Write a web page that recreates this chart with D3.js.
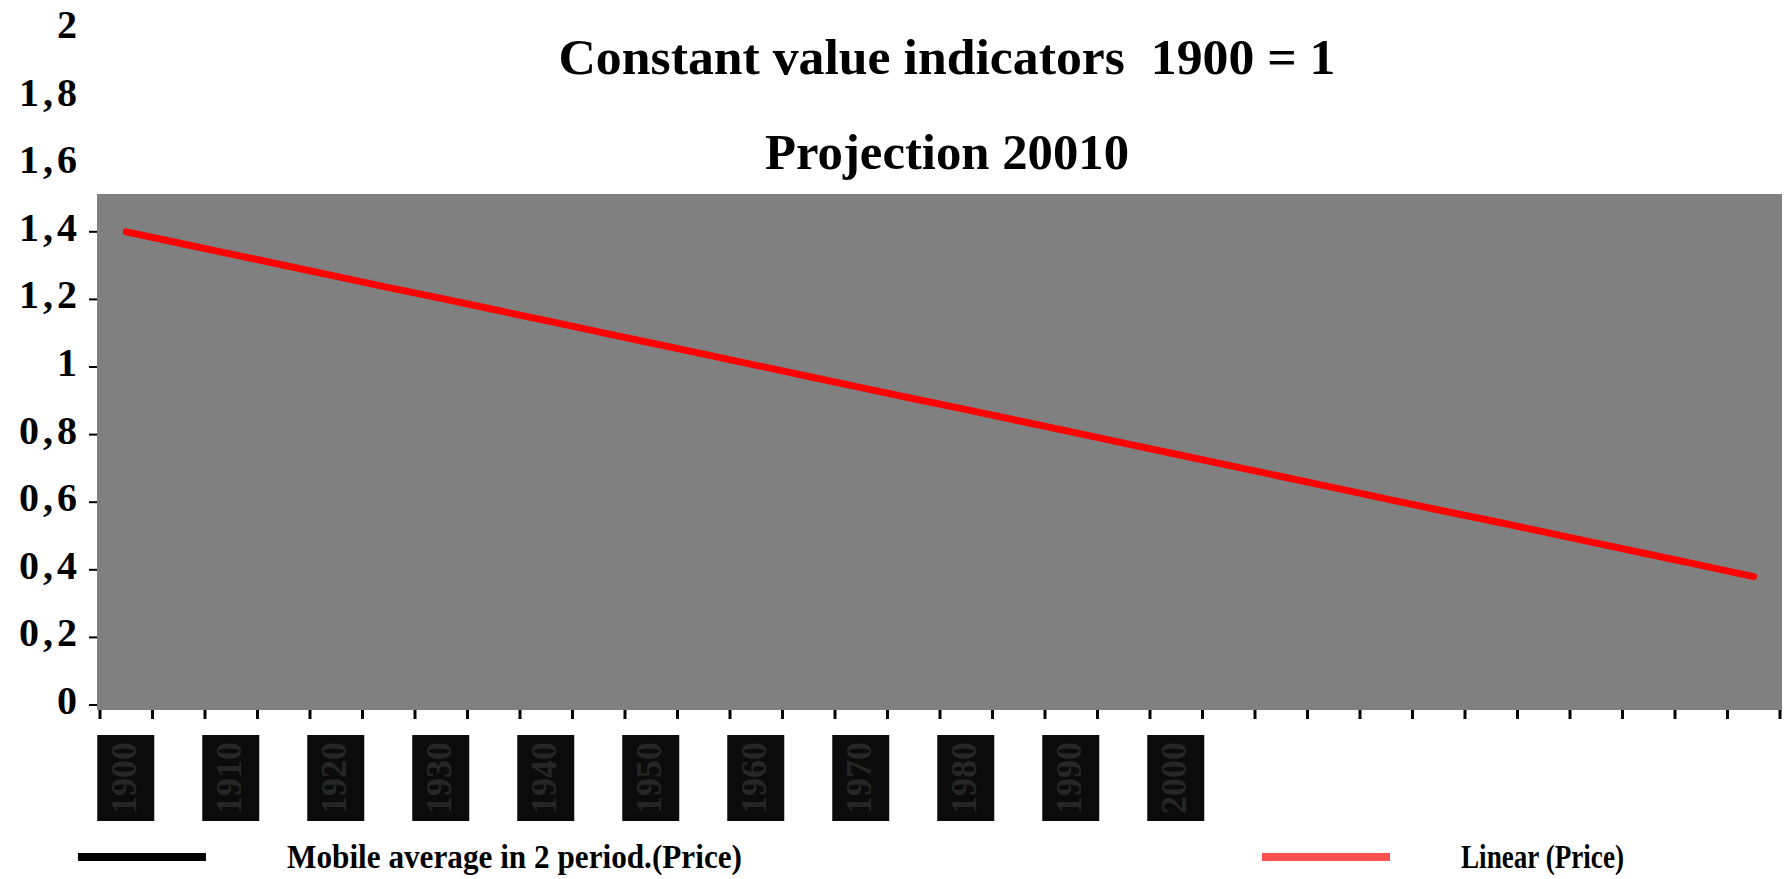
<!DOCTYPE html>
<html>
<head>
<meta charset="utf-8">
<script src="https://cdn.jsdelivr.net/npm/d3@7/dist/d3.min.js"></script>
<style>
  html, body { margin: 0; padding: 0; background: #ffffff; }
  svg { display: block; }
  text { font-family: "Liberation Serif", "Times New Roman", serif; font-weight: bold; white-space: pre; }
</style>
</head>
<body>
<svg id="chart" width="1787" height="879"></svg>
<script>
// ---------- data ----------
const categories = ["1900","1905","1910","1915","1920","1925","1930","1935","1940","1945",
                    "1950","1955","1960","1965","1970","1975","1980","1985","1990","1995",
                    "2000","2005","2010","2015","2020","2025","2030","2035","2040","2045",
                    "2050","2055"];
const labelledCategories = ["1900","1910","1920","1930","1940","1950","1960","1970","1980","1990","2000"];
const linearPrice = [1.400, 1.367, 1.334, 1.301, 1.268, 1.235, 1.203, 1.170, 1.137, 1.104,
                     1.071, 1.038, 1.005, 0.972, 0.939, 0.906, 0.874, 0.841, 0.808, 0.775,
                     0.742, 0.709, 0.676, 0.643, 0.610, 0.577, 0.545, 0.512, 0.479, 0.446,
                     0.413, 0.380];
const yTickValues = [0, 0.2, 0.4, 0.6, 0.8, 1, 1.2, 1.4, 1.6, 1.8, 2];
const yTickLabels = ["0", "0,2", "0,4", "0,6", "0,8", "1", "1,2", "1,4", "1,6", "1,8", "2"];
const titleLines = ["Constant value indicators  1900 = 1", "Projection 20010"];
const legendNames = ["Mobile average in 2 period.(Price)", "Linear (Price)"];
const legendColors = ["#000000", "#ff5050"];

// ---------- layout ----------
const svg = d3.select("#chart");
const plot = { left: 97, right: 1782, top: 194, bottom: 710 };

const x = d3.scaleBand().domain(categories).range([100, 1780]).padding(0);
const y = d3.scaleLinear().domain([0, 2]).range([705, 29]);

// plot area background
svg.append("rect")
  .attr("x", plot.left).attr("y", plot.top)
  .attr("width", plot.right - plot.left).attr("height", plot.bottom - plot.top)
  .attr("fill", "#808080");

// titles
const titleSpecs = [
  { y: 74, len: 777, size: 50 },
  { y: 169, len: 364, size: 50 }
];
titleLines.forEach((t, i) => {
  svg.append("text")
    .attr("x", 947).attr("y", titleSpecs[i].y)
    .attr("text-anchor", "middle")
    .attr("font-size", titleSpecs[i].size)
    .attr("textLength", titleSpecs[i].len)
    .attr("lengthAdjust", "spacingAndGlyphs")
    .attr("xml:space", "preserve")
    .attr("fill", "#000")
    .text(t);
});

// y axis labels + ticks
const yAxisG = svg.append("g");
yTickValues.forEach((v, i) => {
  yAxisG.append("text")
    .attr("x", 81).attr("y", y(v) + 9)
    .attr("text-anchor", "end")
    .attr("font-size", 40)
    .attr("letter-spacing", 4)
    .attr("fill", "#000")
    .text(yTickLabels[i]);
  if (y(v) >= plot.top) {
    yAxisG.append("line")
      .attr("x1", 89).attr("x2", plot.left)
      .attr("y1", y(v)).attr("y2", y(v))
      .attr("stroke", "#000").attr("stroke-width", 2);
  }
});

// x axis ticks at category boundaries
const bounds = categories.map(c => x(c)).concat([x(categories[categories.length - 1]) + x.bandwidth()]);
svg.append("g").selectAll("line").data(bounds).join("line")
  .attr("x1", d => d).attr("x2", d => d)
  .attr("y1", plot.bottom).attr("y2", plot.bottom + 9)
  .attr("stroke", "#000").attr("stroke-width", 3);

// x category labels (rendered as dark boxes with rotated text, as in the reference)
const lab = svg.append("g");
labelledCategories.forEach(c => {
  const cx = x(c) + x.bandwidth() / 2 - 1;
  lab.append("rect")
    .attr("x", cx - 28).attr("y", 735)
    .attr("width", 57).attr("height", 86)
    .attr("fill", "#0b0b0b");
  lab.append("text")
    .attr("transform", `translate(${cx + 11},778) rotate(-90)`)
    .attr("text-anchor", "middle")
    .attr("font-size", 36)
    .attr("fill", "#262626")
    .text(c);
});

// linear trend line
const line = d3.line()
  .x((d, i) => x(categories[i]) + x.bandwidth() / 2)
  .y(d => y(d));
svg.append("path")
  .datum(linearPrice)
  .attr("d", line)
  .attr("fill", "none")
  .attr("stroke", "#ff0000")
  .attr("stroke-width", 7)
  .attr("stroke-linecap", "round")
  .attr("stroke-linejoin", "round");

// legend
const legendSpecs = [
  { x1: 78, x2: 206, tx: 287, len: 455 },
  { x1: 1262, x2: 1390, tx: 1461, len: 163 }
];
legendNames.forEach((n, i) => {
  const s = legendSpecs[i];
  svg.append("line")
    .attr("x1", s.x1).attr("x2", s.x2)
    .attr("y1", 857).attr("y2", 857)
    .attr("stroke", legendColors[i]).attr("stroke-width", 8);
  svg.append("text")
    .attr("x", s.tx).attr("y", 868)
    .attr("font-size", 33)
    .attr("textLength", s.len)
    .attr("lengthAdjust", "spacingAndGlyphs")
    .attr("fill", "#000")
    .text(n);
});
</script>
</body>
</html>
